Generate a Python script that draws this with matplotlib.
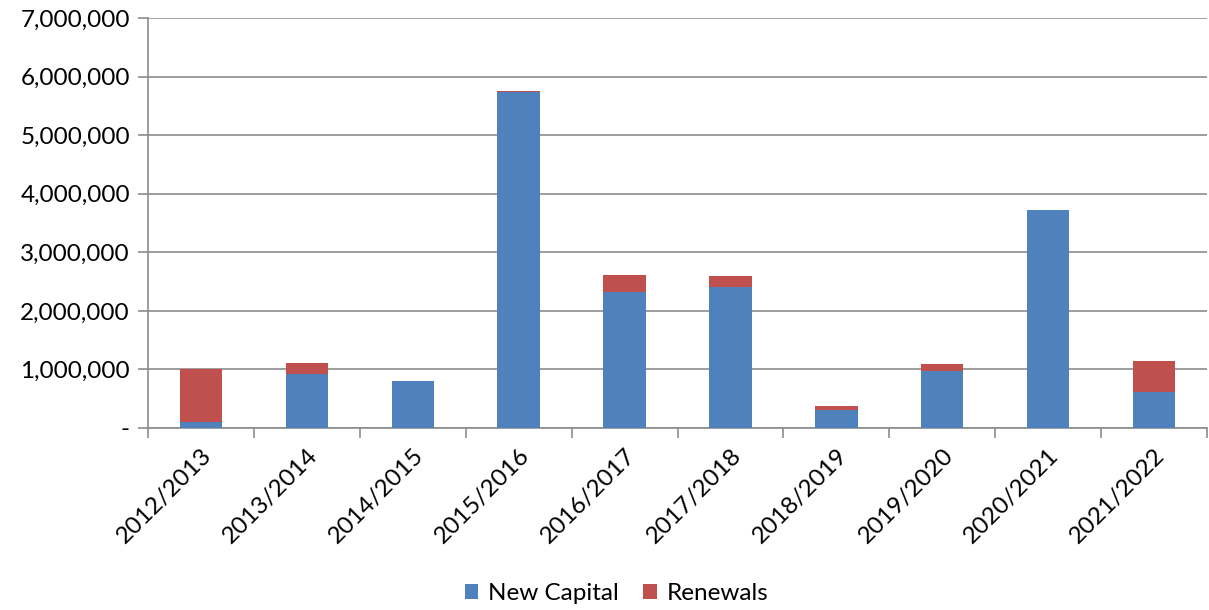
import numpy as np
import matplotlib.pyplot as plt
from matplotlib.ticker import FuncFormatter

years = ["2012/2013", "2013/2014", "2014/2015", "2015/2016", "2016/2017",
         "2017/2018", "2018/2019", "2019/2020", "2020/2021", "2021/2022"]
new_capital = [110000, 930000, 800000, 5740000, 2330000,
               2410000, 310000, 970000, 3720000, 620000]
renewals = [890000, 180000, 0, 20000, 290000,
            180000, 70000, 130000, 0, 530000]

plt.rcParams['font.family'] = ['Lato', 'DejaVu Sans']

fig = plt.figure(figsize=(12.09, 6.10), dpi=100)
ax = fig.add_axes([148 / 1209, 1 - 428 / 610, (1207 - 148) / 1209, (428 - 18) / 610])

x = np.arange(len(years))
ax.bar(x, new_capital, width=0.4, color="#4F81BD", label="New Capital", zorder=3)
ax.bar(x, renewals, width=0.4, bottom=new_capital, color="#C0504D", label="Renewals", zorder=3)

ax.set_ylim(0, 7000000)
ax.set_xlim(-0.5, len(years) - 0.5)
ax.set_yticks(np.arange(0, 7000001, 1000000))
ax.yaxis.set_major_formatter(FuncFormatter(lambda v, p: "-" if v == 0 else "{:,.0f}".format(v)))
ax.grid(axis="y", color="#8c8c8c", linewidth=1.2, zorder=0)

ax.set_xticks(x)
ax.set_xticklabels(years, rotation=45, ha="right", rotation_mode="anchor")
ax.set_xticks(np.arange(-0.5, len(years), 1), minor=True)
ax.tick_params(axis="x", which="major", length=0, labelsize=17.5, pad=12)
ax.tick_params(axis="x", which="minor", length=7, width=1.2, color="#8c8c8c")
ax.tick_params(axis="y", length=7, width=1.2, color="#8c8c8c", labelsize=17.5, pad=6)

for s in ["top", "right"]:
    ax.spines[s].set_visible(False)
for s in ["left", "bottom"]:
    ax.spines[s].set_color("#8c8c8c")
    ax.spines[s].set_linewidth(1.2)

fig.legend(loc="lower center", ncol=2, frameon=False, fontsize=17.5,
           bbox_to_anchor=(0.51, -0.026), handlelength=0.55, handleheight=0.55,
           columnspacing=1.0, handletextpad=0.4)

fig.savefig("out.png", dpi=100)
